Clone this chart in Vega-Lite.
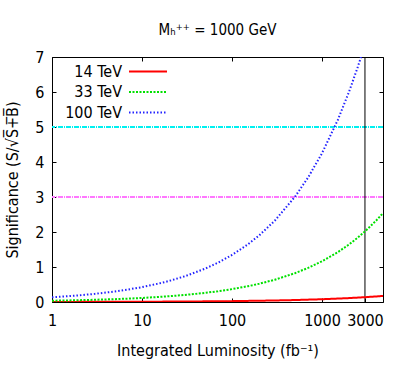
{
  "$schema": "https://vega.github.io/schema/vega-lite/v6.json",
  "width": 331,
  "height": 245,
  "autosize": "none",
  "padding": {"left": 52, "top": 57, "right": 26, "bottom": 80},
  "background": "white",
  "title": {
    "text": "Mₕ⁺⁺ = 1000 GeV",
    "font": "Liberation Sans Narrow, DejaVu Sans Condensed, Liberation Sans",
    "fontSize": 15,
    "fontWeight": "normal",
    "color": "black",
    "anchor": "middle",
    "offset": 11
  },
  "config": {
    "view": {"stroke": "black", "strokeWidth": 1},
    "axis": {
      "grid": false,
      "domain": false,
      "tickColor": "black",
      "tickSize": -4,
      "labelFont": "Liberation Sans Narrow, DejaVu Sans Condensed, Liberation Sans",
      "labelFontSize": 16,
      "labelColor": "black",
      "titleFont": "Liberation Sans Narrow, DejaVu Sans Condensed, Liberation Sans",
      "titleFontSize": 16,
      "titleFontWeight": "normal",
      "titleColor": "black"
    }
  },
  "datasets": {
    "curves": [
      {"L": 1, "sig": 0.0025, "series": "14 TeV"},
      {"L": 3, "sig": 0.0043, "series": "14 TeV"},
      {"L": 10, "sig": 0.0079, "series": "14 TeV"},
      {"L": 30, "sig": 0.0137, "series": "14 TeV"},
      {"L": 100, "sig": 0.025, "series": "14 TeV"},
      {"L": 300, "sig": 0.0433, "series": "14 TeV"},
      {"L": 500, "sig": 0.056, "series": "14 TeV"},
      {"L": 1000, "sig": 0.079, "series": "14 TeV"},
      {"L": 2000, "sig": 0.112, "series": "14 TeV"},
      {"L": 3000, "sig": 0.137, "series": "14 TeV"},
      {"L": 4760, "sig": 0.1725, "series": "14 TeV"},
      {"L": 1, "sig": 0.037, "series": "33 TeV"},
      {"L": 1.5, "sig": 0.045, "series": "33 TeV"},
      {"L": 2, "sig": 0.052, "series": "33 TeV"},
      {"L": 3, "sig": 0.064, "series": "33 TeV"},
      {"L": 5, "sig": 0.082, "series": "33 TeV"},
      {"L": 7, "sig": 0.097, "series": "33 TeV"},
      {"L": 10, "sig": 0.116, "series": "33 TeV"},
      {"L": 15, "sig": 0.143, "series": "33 TeV"},
      {"L": 20, "sig": 0.165, "series": "33 TeV"},
      {"L": 30, "sig": 0.202, "series": "33 TeV"},
      {"L": 50, "sig": 0.26, "series": "33 TeV"},
      {"L": 70, "sig": 0.308, "series": "33 TeV"},
      {"L": 100, "sig": 0.368, "series": "33 TeV"},
      {"L": 150, "sig": 0.451, "series": "33 TeV"},
      {"L": 200, "sig": 0.52, "series": "33 TeV"},
      {"L": 300, "sig": 0.637, "series": "33 TeV"},
      {"L": 500, "sig": 0.823, "series": "33 TeV"},
      {"L": 700, "sig": 0.974, "series": "33 TeV"},
      {"L": 1000, "sig": 1.164, "series": "33 TeV"},
      {"L": 1500, "sig": 1.425, "series": "33 TeV"},
      {"L": 2000, "sig": 1.646, "series": "33 TeV"},
      {"L": 2500, "sig": 1.84, "series": "33 TeV"},
      {"L": 3000, "sig": 2.016, "series": "33 TeV"},
      {"L": 4000, "sig": 2.328, "series": "33 TeV"},
      {"L": 4760, "sig": 2.539, "series": "33 TeV"},
      {"L": 1, "sig": 0.134, "series": "100 TeV"},
      {"L": 1.5, "sig": 0.165, "series": "100 TeV"},
      {"L": 2, "sig": 0.19, "series": "100 TeV"},
      {"L": 3, "sig": 0.233, "series": "100 TeV"},
      {"L": 5, "sig": 0.301, "series": "100 TeV"},
      {"L": 7, "sig": 0.356, "series": "100 TeV"},
      {"L": 10, "sig": 0.425, "series": "100 TeV"},
      {"L": 15, "sig": 0.521, "series": "100 TeV"},
      {"L": 20, "sig": 0.601, "series": "100 TeV"},
      {"L": 30, "sig": 0.736, "series": "100 TeV"},
      {"L": 50, "sig": 0.95, "series": "100 TeV"},
      {"L": 70, "sig": 1.124, "series": "100 TeV"},
      {"L": 100, "sig": 1.344, "series": "100 TeV"},
      {"L": 150, "sig": 1.646, "series": "100 TeV"},
      {"L": 200, "sig": 1.901, "series": "100 TeV"},
      {"L": 300, "sig": 2.328, "series": "100 TeV"},
      {"L": 500, "sig": 3.005, "series": "100 TeV"},
      {"L": 700, "sig": 3.556, "series": "100 TeV"},
      {"L": 1000, "sig": 4.25, "series": "100 TeV"},
      {"L": 1500, "sig": 5.205, "series": "100 TeV"},
      {"L": 2000, "sig": 6.011, "series": "100 TeV"},
      {"L": 2500, "sig": 6.72, "series": "100 TeV"},
      {"L": 2712, "sig": 7.0, "series": "100 TeV"}
    ],
    "thresholds": [
      {"sig": 5, "level": "5 sigma"},
      {"sig": 3, "level": "3 sigma"}
    ],
    "hllhc": [
      {"L": 3000}
    ]
  },
  "layer": [
    {
      "data": {"name": "thresholds"},
      "transform": [{"filter": "datum.sig == 5"}],
      "mark": {"type": "rule", "color": "#00f0f0", "strokeWidth": 2, "strokeDash": [5, 1, 1, 1]},
      "encoding": {
        "y": {
          "field": "sig",
          "type": "quantitative",
          "scale": {"domain": [0, 7], "nice": false},
          "axis": {"orient": "right", "values": [0, 1, 2, 3, 4, 5, 6, 7], "labels": false, "title": null}
        }
      }
    },
    {
      "data": {"name": "thresholds"},
      "transform": [{"filter": "datum.sig == 3"}],
      "mark": {"type": "rule", "color": "#ff77ff", "strokeWidth": 2, "strokeDash": [5, 1, 1, 1]},
      "encoding": {
        "y": {"field": "sig", "type": "quantitative", "axis": null}
      }
    },
    {
      "data": {"name": "hllhc"},
      "mark": {"type": "rule", "color": "black", "strokeWidth": 1},
      "encoding": {
        "x": {
          "field": "L",
          "type": "quantitative",
          "scale": {"type": "log", "domain": [1, 4760], "nice": false},
          "axis": {"orient": "top", "values": [1, 10, 100, 1000], "labels": false, "title": null}
        }
      }
    },
    {
      "data": {"name": "curves"},
      "mark": {"type": "line", "strokeWidth": 2, "clip": true},
      "encoding": {
        "x": {
          "field": "L",
          "type": "quantitative",
          "axis": {
            "orient": "bottom",
            "values": [1, 10, 100, 1000, 3000],
            "format": "d",
            "labelPadding": 14,
            "labelFlush": false,
            "title": "Integrated Luminosity (fb⁻¹)",
            "titlePadding": 14
          }
        },
        "y": {
          "field": "sig",
          "type": "quantitative",
          "axis": {
            "orient": "left",
            "values": [0, 1, 2, 3, 4, 5, 6, 7],
            "format": "d",
            "labelPadding": 12,
            "title": "Significance (S/√S̅+̅B̅)",
            "titlePadding": 14
          }
        },
        "color": {
          "field": "series",
          "type": "nominal",
          "scale": {
            "domain": ["14 TeV", "33 TeV", "100 TeV"],
            "range": ["#ff0000", "#00e000", "#2222ff"]
          },
          "legend": {
            "orient": "none",
            "legendX": 85.5,
            "legendY": 4,
            "title": null,
            "padding": 0,
            "symbolType": "M-2,0H2",
            "symbolSize": 361,
            "symbolStrokeWidth": 2,
            "labelAlign": "right",
            "labelOffset": -36.5,
            "labelFont": "Liberation Sans Narrow, DejaVu Sans Condensed, Liberation Sans",
            "labelFontSize": 16,
            "labelColor": "black",
            "rowPadding": 1.5
          }
        },
        "strokeDash": {
          "field": "series",
          "type": "nominal",
          "scale": {
            "domain": ["14 TeV", "33 TeV", "100 TeV"],
            "range": [[1, 0], [2, 1.5], [1.5, 2]]
          },
          "legend": null
        }
      }
    }
  ],
  "resolve": {"axis": {"x": "independent", "y": "independent"}}
}
